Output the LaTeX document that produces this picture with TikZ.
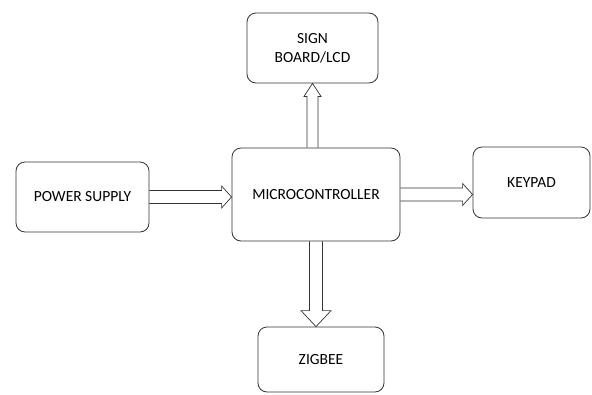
\documentclass[tikz,border=0pt]{standalone}
\usepackage{fontspec}
\setmainfont{Carlito}
\usetikzlibrary{calc}
\tikzset{
  block/.style={draw=black!80, line width=0.8pt, rounded corners=9pt, inner sep=0pt,
    align=center, font=\fontsize{15.5}{19}\selectfont},
  % hollow block arrow: #1 half shaft width, #2 half head width, #3 head length
  barrow/.style n args={3}{draw=black!80, line width=0.7pt, line join=miter, to path={
    let \p1=(\tikztostart), \p2=(\tikztotarget),
        \n1={veclen(\x2-\x1,\y2-\y1)-#3} in
    ($(\p1)!#1!90:(\p2)$) -- ($(\p1)!\n1!(\p2)!#1!90:(\p2)$)
    -- ($(\p1)!\n1!(\p2)!#2!90:(\p2)$) -- (\p2)
    -- ($(\p1)!\n1!(\p2)!#2!-90:(\p2)$) -- ($(\p1)!\n1!(\p2)!#1!-90:(\p2)$)
    -- ($(\p1)!#1!-90:(\p2)$)}}
}
\begin{document}
\begin{tikzpicture}[x=1pt, y=-1pt]
\useasboundingbox (0,0) rectangle (592,394);

% blocks
\node[block, minimum width=168pt, minimum height=93pt] (mcu) at (316,194.5) {MICROCONTROLLER};
\node[block, minimum width=131pt, minimum height=70pt] (lcd) at (312.5,48) {SIGN\\BOARD/LCD};
\node[block, minimum width=133pt, minimum height=70pt] (ps) at (82.5,197) {POWER SUPPLY};
\node[block, minimum width=117pt, minimum height=71pt] (kp) at (531.5,182.5) {KEYPAD};
\node[block, minimum width=126pt, minimum height=65pt] (zb) at (321,359.5) {ZIGBEE};

% connections
\draw[barrow={6.5pt}{11pt}{10pt}] (ps.east) to (ps.east -| mcu.west);
\draw[barrow={6.5pt}{11pt}{10pt}] (mcu.east) to (mcu.east -| kp.west);
\draw[barrow={5.5pt}{8.5pt}{13pt}] (mcu.north -| lcd.south) to (lcd.south);
\draw[barrow={6.5pt}{15pt}{16pt}] (mcu.south) to (mcu.south |- zb.north);
\end{tikzpicture}
\end{document}
